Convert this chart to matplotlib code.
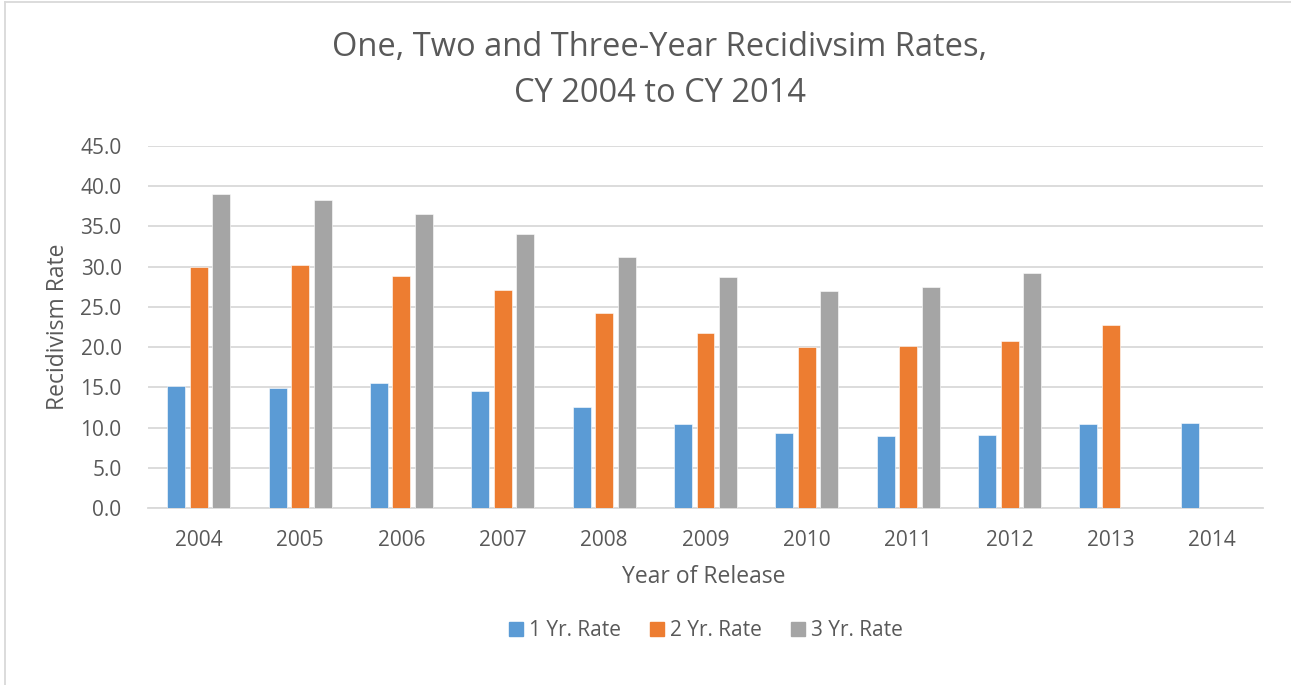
import matplotlib
matplotlib.use("Agg")
import matplotlib.pyplot as plt
import numpy as np
from matplotlib.lines import Line2D

years = ["2004", "2005", "2006", "2007", "2008", "2009", "2010", "2011", "2012", "2013", "2014"]
rate_1yr = [15.2, 14.9, 15.5, 14.5, 12.5, 10.5, 9.3, 8.9, 9.1, 10.4, 10.6]
rate_2yr = [29.9, 30.2, 28.8, 27.1, 24.2, 21.7, 20.0, 20.2, 20.8, 22.7, np.nan]
rate_3yr = [39.0, 38.3, 36.5, 34.1, 31.2, 28.7, 27.0, 27.5, 29.2, np.nan, np.nan]
series_names = ["1 Yr. Rate", "2 Yr. Rate", "3 Yr. Rate"]
colors = ["#5B9BD5", "#ED7D31", "#A5A5A5"]
yticks = [0, 5, 10, 15, 20, 25, 30, 35, 40, 45]

plt.rcParams['font.family'] = ['Open Sans', 'DejaVu Sans']
txt = "#595959"

fig = plt.figure(figsize=(12.91, 6.85), dpi=100)
ax = fig.add_axes([148/1291, 1-508/685, (1263-148)/1291, (508-146)/685])

x = np.arange(len(years))
w = 0.177
off = 0.222
for i, (vals, name, c) in enumerate(zip([rate_1yr, rate_2yr, rate_3yr], series_names, colors)):
    ax.bar(x + (i-1)*off, vals, width=w, color=c, label=name, edgecolor="white", linewidth=0.4, zorder=3)

ax.set_xlim(-0.5, len(years)-0.5)
ax.set_ylim(0, 45)
ax.set_yticks(yticks)
ax.set_yticklabels([f"{t:.1f}" for t in yticks])
ax.set_xticks(x)
ax.set_xticklabels(years)
ax.grid(axis="y", color="#D9D9D9", linewidth=1.3, zorder=0)
ax.set_axisbelow(True)
for s in ["top", "right", "left"]:
    ax.spines[s].set_visible(False)
ax.spines["bottom"].set_color("#D9D9D9")
ax.spines["bottom"].set_linewidth(1.3)
ax.tick_params(axis="both", length=0, labelsize=15, colors=txt)
ax.tick_params(axis="x", pad=16)
ax.tick_params(axis="y", pad=19)

fig.text(660/1291, 1-47/685, "One, Two and Three-Year Recidivsim Rates,", ha="center", va="center", fontsize=23.5, color=txt)
fig.text(660/1291, 1-93/685, "CY 2004 to CY 2014", ha="center", va="center", fontsize=23.5, color=txt)
fig.text(58/1291, 1-327/685, "Recidivism Rate", rotation=90, ha="center", va="center", fontsize=16.5, color=txt)
fig.text(704/1291, 1-577/685, "Year of Release", ha="center", va="center", fontsize=16.5, color=txt)

handles = [plt.Rectangle((0, 0), 1, 1, color=c) for c in colors]
fig.legend(handles, series_names, loc="center", bbox_to_anchor=(706/1291, 1-631/685), ncol=3,
           frameon=False, fontsize=15, handlelength=0.65, handleheight=0.65, handletextpad=0.3,
           columnspacing=1.4, labelcolor=txt)

# chart border (left and top visible)
fig.add_artist(Line2D([5/1291, 5/1291], [0, 1-2/685], transform=fig.transFigure, color="#D9D9D9", linewidth=1.3))
fig.add_artist(Line2D([5/1291, 1], [1-2/685, 1-2/685], transform=fig.transFigure, color="#D9D9D9", linewidth=1.3))

fig.savefig("out.png", dpi=100)
